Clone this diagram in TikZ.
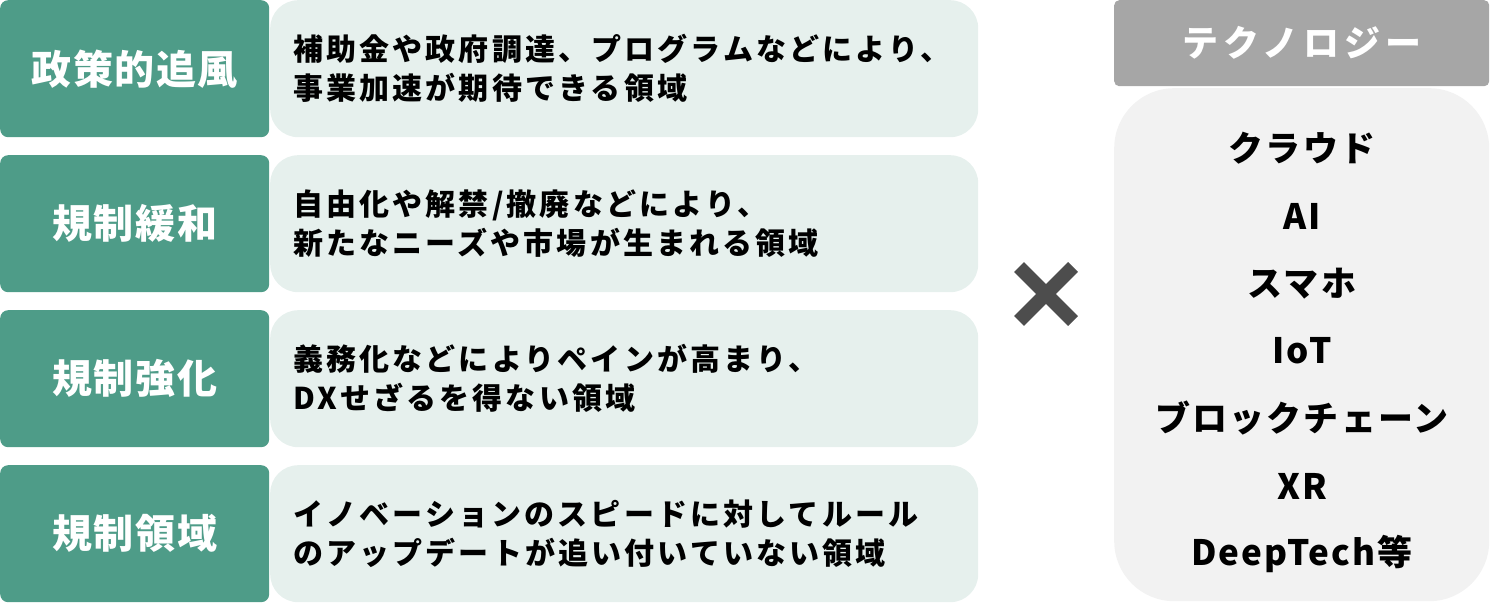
\documentclass[tikz,border=0pt]{standalone}
\usepackage{fontspec}
\setmainfont{Noto Sans CJK JP}
\definecolor{grn}{HTML}{4E9C88}
\definecolor{lgrn}{HTML}{E6F0ED}
\definecolor{hdr}{HTML}{A6A6A6}
\definecolor{lgray}{HTML}{F2F2F2}
\definecolor{xcol}{HTML}{4D4D4D}
\tikzset{
  catbox/.style={fill=grn, rounded corners=8pt, minimum width=269pt, minimum height=137pt, inner sep=0pt, anchor=north west, text=white,
    font=\fontsize{40}{44}\selectfont\bfseries\addfontfeature{LetterSpace=4}},
  descbox/.style={fill=lgrn, rounded corners=28pt, minimum width=708pt, minimum height=137pt, anchor=north west, inner xsep=23pt, inner ysep=0pt,
    text width=662pt, align=left, text=black,
    font=\fontsize{30}{39}\selectfont\bfseries\addfontfeature{LetterSpace=10.5}},
  techitem/.style={text=black, inner sep=0pt, font=\fontsize{35}{40}\selectfont\bfseries\addfontfeature{LetterSpace=6}},
}
\begin{document}
\begin{tikzpicture}[x=1pt,y=-1pt]
\useasboundingbox (0,0) rectangle (1490,602);
% left column
\node[catbox] (c1) at (0,0) {政策的追風};
\node[catbox] (c2) at (0,155) {規制緩和};
\node[catbox] (c3) at (0,310) {規制強化};
\node[catbox] (c4) at (0,465) {規制領域};
\node[descbox] (d1) at (270,0) {補助金や政府調達、プログラムなどにより、\\事業加速が期待できる領域};
\node[descbox] (d2) at (270,155) {自由化や解禁/撤廃などにより、\\新たなニーズや市場が生まれる領域};
\node[descbox] (d3) at (270,310) {義務化などによりペインが高まり、\\DXせざるを得ない領域};
\node[descbox] (d4) at (270,465) {イノベーションのスピードに対してルール\\のアップデートが追い付いていない領域};
% times sign
\coordinate (xc) at (1046,294);
\draw[xcol, line width=14pt] ([shift={(-27,-27)}]xc) -- ([shift={(27,27)}]xc);
\draw[xcol, line width=14pt] ([shift={(-27,27)}]xc) -- ([shift={(27,-27)}]xc);
% right column
\node[fill=hdr, rounded corners=5pt, minimum width=375pt, minimum height=86pt, anchor=north west, inner sep=0pt, text=white,
  font=\fontsize{36}{40}\selectfont\bfseries\addfontfeature{LetterSpace=14}] (th) at (1114,0) {テクノロジー};
\node[fill=lgray, rounded corners=60pt, minimum width=375pt, minimum height=513pt, anchor=north west, inner sep=0pt] (tb) at (1114,88) {};
\node[techitem] (t1) at (1302,148) {クラウド};
\node[techitem] (t2) at (1302,216) {AI};
\node[techitem] (t3) at (1302,284) {スマホ};
\node[techitem] (t4) at (1302,351) {IoT};
\node[techitem] (t5) at (1302,418) {ブロックチェーン};
\node[techitem] (t6) at (1302,486) {XR};
\node[techitem] (t7) at (1302,554) {DeepTech等};
\end{tikzpicture}
\end{document}
